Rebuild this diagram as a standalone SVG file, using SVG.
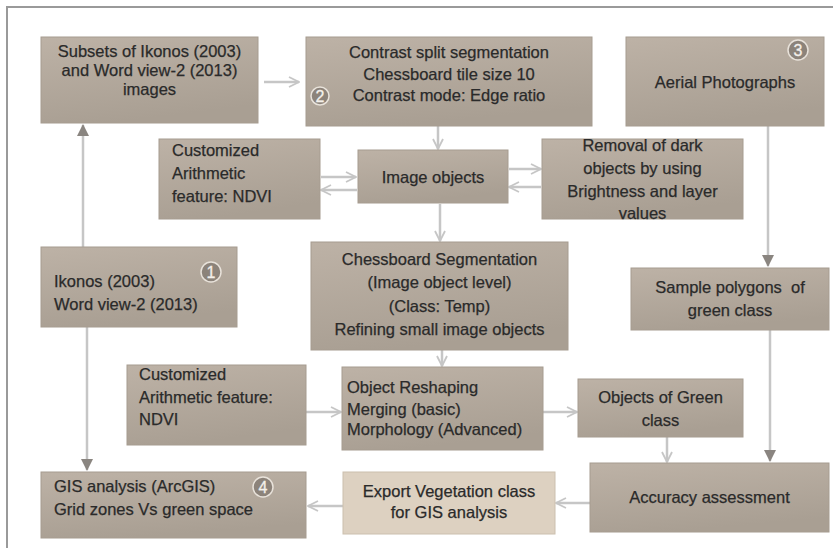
<svg xmlns="http://www.w3.org/2000/svg" width="840" height="555" viewBox="0 0 840 555">
<style>
.box{fill:url(#g);stroke:#a69c90;stroke-width:1}
.lite{fill:#ddd1c1;stroke:#cbbfae;stroke-width:1}
text{font-family:"Liberation Sans",Arial,sans-serif;font-size:16.5px;fill:#2a2a2a;stroke:#2a2a2a;stroke-width:0.25;white-space:pre}
.c{text-anchor:middle}
.ln{fill:none;stroke:#c6c6c6;stroke-width:2.5}
.num{fill:#8c837a;stroke:#e8e2da;stroke-width:1.5}
.nt{fill:#f4f0ea;stroke:#f4f0ea;stroke-width:0.3;font-size:16px;text-anchor:middle}
</style>
<defs>
<linearGradient id="g" x1="0" y1="0" x2="0.3" y2="1">
<stop offset="0" stop-color="#bdb2a6"/>
<stop offset="1" stop-color="#a99f93"/>
</linearGradient>
<marker id="o" viewBox="0 0 12 12" refX="11" refY="6" markerWidth="12" markerHeight="12" markerUnits="userSpaceOnUse" orient="auto">
<path d="M1,1 L11,6 L1,11" fill="none" stroke="#c6c6c6" stroke-width="1.8"/>
</marker>
<marker id="f" viewBox="0 0 12 12" refX="11" refY="6" markerWidth="12" markerHeight="12" markerUnits="userSpaceOnUse" orient="auto">
<path d="M0,0 L12,6 L0,12 Z" fill="#8a8580"/>
</marker>
</defs>
<rect width="840" height="555" fill="#fff"/>
<path d="M7,548 L7,7 L833,7" fill="none" stroke="#9a9a9a" stroke-width="2"/>
<g id="connectors">
<line class="ln" x1="264" y1="82" x2="299" y2="82" marker-end="url(#o)"/>
<line class="ln" x1="83" y1="247" x2="83" y2="125" marker-end="url(#f)"/>
<line class="ln" x1="87" y1="327" x2="87" y2="470" marker-end="url(#f)"/>
<line class="ln" x1="438" y1="126" x2="438" y2="149" marker-end="url(#o)"/>
<line class="ln" x1="321" y1="177" x2="356" y2="177" marker-end="url(#o)"/>
<line class="ln" x1="357" y1="190" x2="321" y2="190" marker-end="url(#o)"/>
<line class="ln" x1="509" y1="169" x2="541" y2="169" marker-end="url(#o)"/>
<line class="ln" x1="541" y1="187" x2="509" y2="187" marker-end="url(#o)"/>
<line class="ln" x1="440" y1="204" x2="440" y2="241" marker-end="url(#o)"/>
<line class="ln" x1="768" y1="126" x2="768" y2="266" marker-end="url(#f)"/>
<line class="ln" x1="442" y1="350" x2="442" y2="366" marker-end="url(#o)"/>
<line class="ln" x1="306" y1="412" x2="341" y2="412" marker-end="url(#o)"/>
<line class="ln" x1="543" y1="412" x2="577" y2="412" marker-end="url(#o)"/>
<line class="ln" x1="667" y1="437" x2="667" y2="462" marker-end="url(#o)"/>
<line class="ln" x1="770" y1="330" x2="770" y2="461" marker-end="url(#f)"/>
<line class="ln" x1="590" y1="503" x2="556" y2="503" marker-end="url(#o)"/>
<line class="ln" x1="343" y1="506" x2="308" y2="506" marker-end="url(#o)"/>
</g>
<g id="subsets">
<rect class="box" x="41" y="37" width="217" height="86"/>
<text class="c" x="149.5" y="57">Subsets of Ikonos (2003)</text>
<text class="c" x="149.5" y="76">and Word view-2 (2013)</text>
<text class="c" x="149.5" y="95">images</text>
</g>
<g id="contrast">
<rect class="box" x="306" y="37" width="286" height="89"/>
<text class="c" x="449" y="58">Contrast split segmentation</text>
<text class="c" x="449" y="80">Chessboard tile size 10</text>
<text class="c" x="449" y="101">Contrast mode: Edge ratio</text>
<circle class="num" cx="320" cy="96" r="9"/>
<text class="nt" x="320" y="101.5">2</text>
</g>
<g id="aerial">
<rect class="box" x="626" y="37" width="198" height="89"/>
<text class="c" x="725" y="88">Aerial Photographs</text>
<circle class="num" cx="798" cy="50" r="10"/>
<text class="nt" x="798" y="56">3</text>
</g>
<g id="ndvi1">
<rect class="box" x="159" y="139" width="161" height="80"/>
<text x="172" y="156">Customized</text>
<text x="172" y="179">Arithmetic</text>
<text x="172" y="202">feature: NDVI</text>
</g>
<g id="imageobjects">
<rect class="box" x="358" y="150" width="150" height="53"/>
<text class="c" x="433" y="183">Image objects</text>
</g>
<g id="removal">
<rect class="box" x="542" y="139" width="201" height="80"/>
<text class="c" x="642.5" y="151">Removal of dark</text>
<text class="c" x="642.5" y="174">objects by using</text>
<text class="c" x="642.5" y="197">Brightness and layer</text>
<text class="c" x="642.5" y="219">values</text>
</g>
<g id="ikonos">
<rect class="box" x="41" y="247" width="196" height="80"/>
<text x="54" y="287">Ikonos (2003)</text>
<text x="54" y="310">Word view-2 (2013)</text>
<circle class="num" cx="211" cy="272" r="10"/>
<text class="nt" x="211" y="278">1</text>
</g>
<g id="chessboard">
<rect class="box" x="311" y="242" width="257" height="108"/>
<text class="c" x="439.5" y="265">Chessboard Segmentation</text>
<text class="c" x="439.5" y="288">(Image object level)</text>
<text class="c" x="439.5" y="312">(Class: Temp)</text>
<text class="c" x="439.5" y="335">Refining small image objects</text>
</g>
<g id="sample">
<rect class="box" x="631" y="268" width="198" height="62"/>
<text class="c" x="730" y="293">Sample polygons  of</text>
<text class="c" x="730" y="316">green class</text>
</g>
<g id="ndvi2">
<rect class="box" x="127" y="365" width="179" height="80"/>
<text x="139" y="380">Customized</text>
<text x="139" y="403">Arithmetic feature:</text>
<text x="139" y="425">NDVI</text>
</g>
<g id="reshaping">
<rect class="box" x="342" y="367" width="201" height="83"/>
<text x="347" y="393">Object Reshaping</text>
<text x="347" y="415">Merging (basic)</text>
<text x="347" y="435">Morphology (Advanced)</text>
</g>
<g id="green">
<rect class="box" x="578" y="379" width="165" height="58"/>
<text class="c" x="660.5" y="403">Objects of Green</text>
<text class="c" x="660.5" y="426">class</text>
</g>
<g id="gis">
<rect class="box" x="41" y="472" width="265" height="66"/>
<text x="54" y="492">GIS analysis (ArcGIS)</text>
<text x="54" y="515">Grid zones Vs green space</text>
<circle class="num" cx="263" cy="487" r="10"/>
<text class="nt" x="263" y="493">4</text>
</g>
<g id="export">
<rect class="lite" x="343" y="472" width="212" height="62"/>
<text class="c" x="449" y="497">Export Vegetation class</text>
<text class="c" x="449" y="518">for GIS analysis</text>
</g>
<g id="accuracy">
<rect class="box" x="590" y="463" width="239" height="69"/>
<text class="c" x="709.5" y="503">Accuracy assessment</text>
</g>
</svg>
